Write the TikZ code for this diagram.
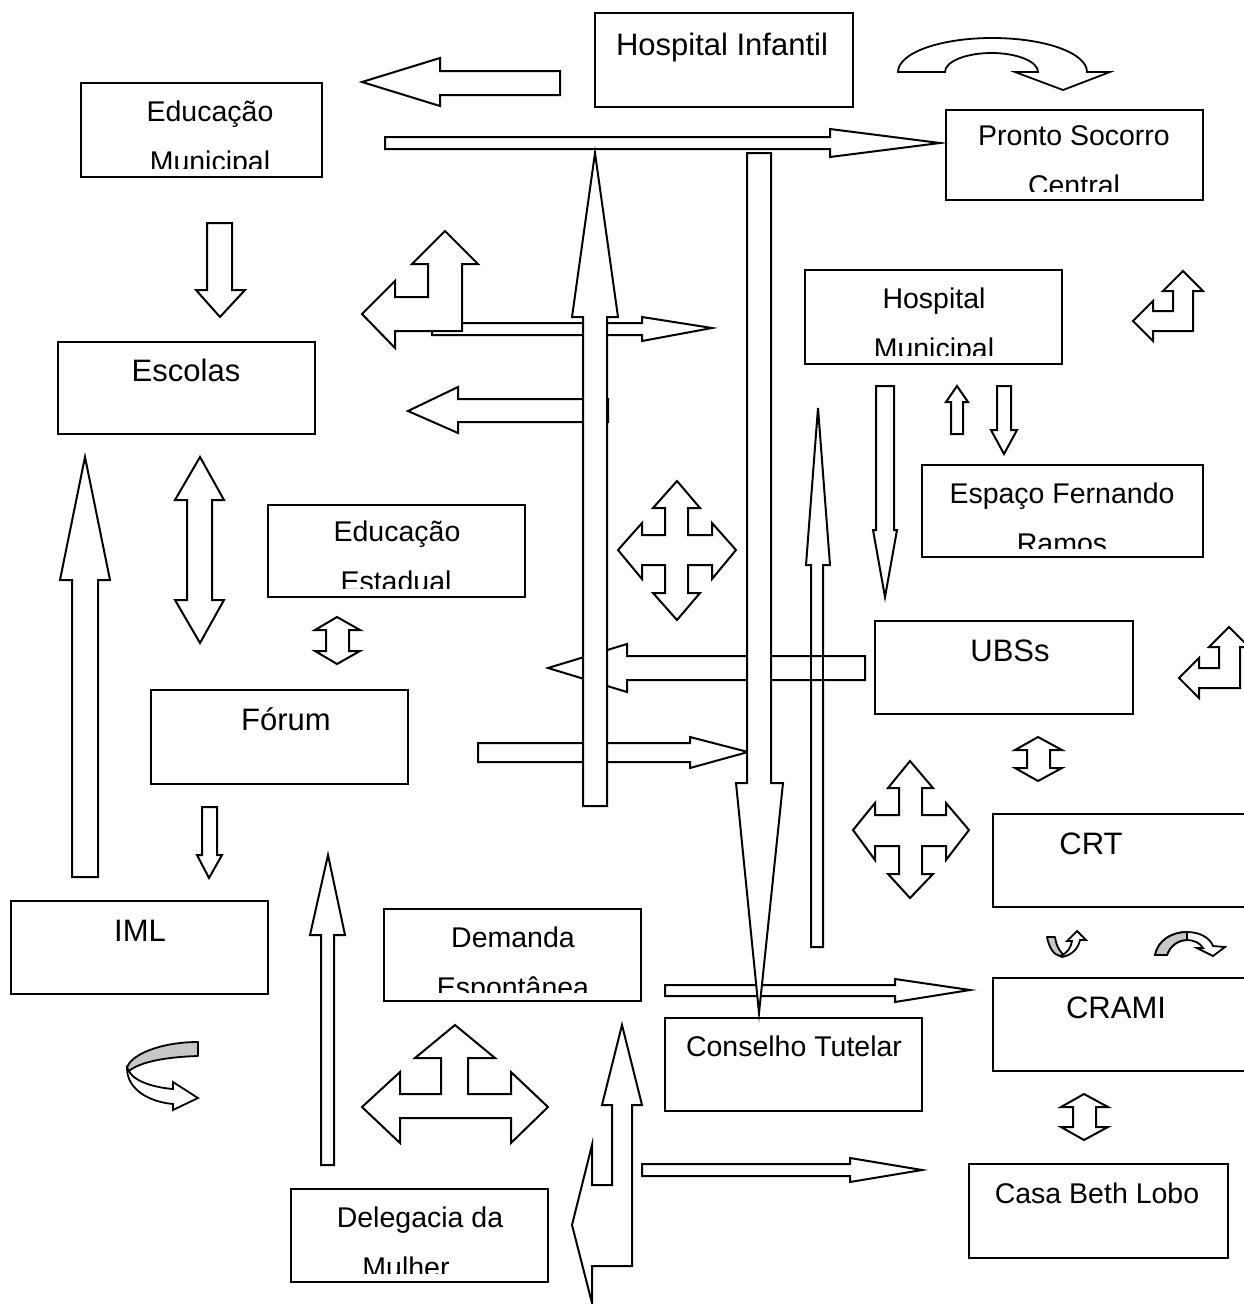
\documentclass[tikz,border=0pt]{standalone}
\usepackage{fontspec}
\setmainfont{Liberation Sans}
\newcommand\fa{\fontsize{28.5}{34}\selectfont}
\newcommand\fb{\fontsize{31}{37}\selectfont}
\tikzset{
 box/.style={draw, line width=2pt, fill=white, inner sep=0pt, outer sep=0pt},
 blk/.style={draw, line width=2pt, fill=white, line join=miter},
 blkline/.style={draw, line width=2pt, line join=miter},
 curlgray/.style={draw, line width=1.8pt, fill=black!22, line join=round},
 curlwhite/.style={draw, line width=1.8pt, fill=white, line join=miter},
 txa/.style={anchor=base, font=\fa, inner sep=0pt},
 txb/.style={anchor=base, font=\fb, inner sep=0pt},
}
\newcommand\mybox[5]{\node[box, minimum width={#4-#2}, minimum height={#5-#3}] (#1) at ({(#2+#4)/2},{(#3+#5)/2}) {};}
\begin{document}
\begin{tikzpicture}[x=1pt,y=-1pt]
\useasboundingbox (0,0) rectangle (1244,1304);
\clip (0,0) rectangle (1244,1304);
\fill[white] (0,0) rectangle (1244,1304);

% ---------- boxes ----------
\mybox{hinf}{595}{13}{853}{107}
\node[txb] (hinft) at (722,55) {Hospital Infantil};

\mybox{edm}{81}{83}{322}{177}
\begin{scope}\clip ([yshift=9pt]edm.south west) rectangle (edm.north east);
\node[txa] (edm1) at (210,121) {Educação};
\node[txa] (edm2) at (210,171) {Municipal};
\end{scope}

\mybox{psc}{946}{110}{1203}{200}
\begin{scope}\clip ([yshift=9pt]psc.south west) rectangle (psc.north east);
\node[txa] (psc1) at (1074,145) {Pronto Socorro};
\node[txa] (psc2) at (1074,195) {Central};
\end{scope}

\mybox{esc}{58}{342}{315}{434}
\node[txb] (esct) at (186,381) {Escolas};

\mybox{hmu}{805}{270}{1062}{364}
\begin{scope}\clip ([yshift=9pt]hmu.south west) rectangle (hmu.north east);
\node[txa] (hmu1) at (934,308) {Hospital};
\node[txa] (hmu2) at (934,358) {Municipal};
\end{scope}

\mybox{efr}{922}{465}{1203}{557}
\begin{scope}\clip ([yshift=9pt]efr.south west) rectangle (efr.north east);
\node[txa] (efr1) at (1062,503) {Espaço Fernando};
\node[txa] (efr2) at (1062,553) {Ramos};
\end{scope}

\mybox{ees}{268}{505}{525}{597}
\begin{scope}\clip ([yshift=9pt]ees.south west) rectangle (ees.north east);
\node[txa] (ees1) at (397,541) {Educação};
\node[txa] (ees2) at (396,591) {Estadual};
\end{scope}

\mybox{ubs}{875}{621}{1133}{714}
\node[txb] (ubst) at (1010,661) {UBSs};

\mybox{for}{151}{690}{408}{784}
\node[txb] (fort) at (286,730) {Fórum};

\mybox{crt}{993}{814}{1251}{907}
\node[txb] (crtt) at (1091,854) {CRT};

\mybox{iml}{11}{901}{268}{994}
\node[txb] (imlt) at (140,941) {IML};

\mybox{dem}{384}{909}{641}{1001}
\begin{scope}\clip ([yshift=9pt]dem.south west) rectangle (dem.north east);
\node[txa] (dem1) at (513,947) {Demanda};
\node[txa] (dem2) at (513,997) {Espontânea};
\end{scope}

\mybox{cra}{993}{978}{1251}{1071}
\node[txb] (crat) at (1116,1018) {CRAMI};

\mybox{con}{665}{1018}{922}{1111}
\node[txa] (cont) at (794,1056) {Conselho Tutelar};

\mybox{cbl}{969}{1164}{1228}{1258}
\node[txa] (cblt) at (1097,1203) {Casa Beth Lobo};

\mybox{del}{291}{1189}{548}{1282}
\begin{scope}\clip ([yshift=9pt]del.south west) rectangle (del.north east);
\node[txa] (del1) at (420,1227) {Delegacia da};
\node[txa] (del2) at (406,1277) {Mulher};
\end{scope}

% ---------- block arrows ----------
% A: top left-pointing
\path[blk] (362,82) -- (440,58) -- (440,71) -- (560,71) -- (560,95) -- (440,95) -- (440,106) -- cycle;
% B: thin right arrow to Pronto Socorro
\path[blk] (385,137) -- (830,137) -- (830,129) -- (940,143) -- (830,157) -- (830,149) -- (385,149) -- cycle;
% G: right arrow y~329
\path[blk] (432,323) -- (642,323) -- (642,317) -- (712,328) -- (642,341) -- (642,335) -- (432,335) -- cycle;
% H: left arrow y~411
\path[blk] (408,411) -- (458,387) -- (458,399) -- (608,399) -- (608,422) -- (458,422) -- (458,433) -- cycle;
% O: right arrow y~752
\path[blk] (478,743) -- (690,743) -- (690,737) -- (748,752) -- (690,768) -- (690,762) -- (478,762) -- cycle;
% Z: right arrow to CRAMI
\path[blk] (665,985) -- (895,985) -- (895,979) -- (970,990) -- (895,1002) -- (895,996) -- (665,996) -- cycle;
% AC: right arrow to Casa Beth Lobo
\path[blk] (642,1164) -- (850,1164) -- (850,1158) -- (922,1170) -- (850,1182) -- (850,1176) -- (642,1176) -- cycle;
% F: bent left-up arrow
\path[blk] (362,314) -- (395,281) -- (395,297) -- (428,297) -- (428,264) -- (412,264) -- (445,231) -- (478,264) -- (462,264) -- (462,331) -- (395,331) -- (395,348) -- cycle;
% I: long up arrow right of center
\path[blk] (818,408) -- (830,565) -- (823,565) -- (823,947) -- (811,947) -- (811,565) -- (806,565) -- cycle;
% N: left arrow from UBSs
\path[blk] (548,668) -- (627,644) -- (627,656) -- (865,656) -- (865,680) -- (627,680) -- (627,692) -- cycle;
\path[blkline] (823,656) -- (823,680) (811,656) -- (811,680);
% C: big up arrow
\path[blk] (595,153) -- (618,317) -- (607,317) -- (607,806) -- (583,806) -- (583,317) -- (572,317) -- cycle;
% D: big down arrow
\path[blk] (747,153) -- (771,153) -- (771,783) -- (783,783) -- (759,1013) -- (736,783) -- (747,783) -- cycle;
% E: Educacao Municipal -> Escolas
\path[blk] (207,223) -- (232,223) -- (232,290) -- (245,290) -- (220,317) -- (196,290) -- (207,290) -- cycle;
% J: double vertical Escolas - Forum
\path[blk] (200,457) -- (224,500) -- (212,500) -- (212,600) -- (224,600) -- (200,643) -- (175,600) -- (187,600) -- (187,500) -- (175,500) -- cycle;
% K: up arrow left
\path[blk] (85,457) -- (110,580) -- (98,580) -- (98,877) -- (72,877) -- (72,580) -- (60,580) -- cycle;
% L: four-way arrow
\path[blk] (677,481) -- (700,508) -- (688,508) -- (688,535) -- (712,535) -- (712,523) -- (736,550) -- (712,579) -- (712,565) -- (688,565) -- (688,593) -- (700,593) -- (677,620) -- (653,593) -- (665,593) -- (665,565) -- (642,565) -- (642,579) -- (618,550) -- (642,523) -- (642,535) -- (665,535) -- (665,508) -- (653,508) -- cycle;
% M: small double vertical
\path[blk] (337,617) -- (360,630) -- (349,630) -- (349,651) -- (360,651) -- (337,664) -- (315,651) -- (326,651) -- (326,630) -- (315,630) -- cycle;
% P: Hospital Municipal -> UBSs
\path[blk] (876,386) -- (894,386) -- (894,530) -- (897,530) -- (885,597) -- (873,530) -- (876,530) -- cycle;
% Q: small up
\path[blk] (957,386) -- (968,402) -- (963,402) -- (963,434) -- (951,434) -- (951,402) -- (946,402) -- cycle;
% R: small down
\path[blk] (997,386) -- (1011,386) -- (1011,430) -- (1017,430) -- (1004,454) -- (991,430) -- (997,430) -- cycle;
% S: bent arrow right top
\path[blk] (1133,321) -- (1153,301) -- (1153,311) -- (1173,311) -- (1173,291) -- (1163,291) -- (1183,271) -- (1203,291) -- (1193,291) -- (1193,331) -- (1153,331) -- (1153,341) -- cycle;
% T: bent arrow right middle
\path[blk] (1179,678) -- (1199,658) -- (1199,668) -- (1219,668) -- (1219,647) -- (1209,647) -- (1229,627) -- (1249,647) -- (1240,647) -- (1240,688) -- (1199,688) -- (1199,698) -- cycle;
% U: small double vertical UBSs - CRT
\path[blk] (1038,737) -- (1062,750) -- (1050,750) -- (1050,768) -- (1062,768) -- (1038,781) -- (1015,768) -- (1027,768) -- (1027,750) -- (1015,750) -- cycle;
% V: four-way arrow
\path[blk] (910,761) -- (933,788) -- (922,788) -- (922,815) -- (946,815) -- (946,803) -- (969,830) -- (946,860) -- (946,846) -- (922,846) -- (922,874) -- (933,874) -- (910,898) -- (888,874) -- (899,874) -- (899,846) -- (875,846) -- (875,860) -- (853,830) -- (875,803) -- (875,815) -- (899,815) -- (899,788) -- (888,788) -- cycle;
% W: small down under Forum
\path[blk] (202,807) -- (217,807) -- (217,855) -- (222,855) -- (209,878) -- (197,855) -- (202,855) -- cycle;
% X: up arrow from Delegacia
\path[blk] (328,855) -- (345,935) -- (334,935) -- (334,1165) -- (321,1165) -- (321,935) -- (310,935) -- cycle;
% AA: three-way arrow
\path[blk] (455,1025) -- (495,1058) -- (468,1058) -- (468,1094) -- (511,1094) -- (511,1072) -- (548,1107) -- (511,1143) -- (511,1118) -- (400,1118) -- (400,1143) -- (362,1107) -- (400,1072) -- (400,1094) -- (441,1094) -- (441,1058) -- (415,1058) -- cycle;
% AB: bent up/left arrow
\path[blk] (622,1025) -- (642,1105) -- (632,1105) -- (632,1266) -- (592,1266) -- (592,1303) -- (572,1225) -- (592,1145) -- (592,1185) -- (612,1185) -- (612,1105) -- (602,1105) -- cycle;
% AD: small double vertical CRAMI - Casa Beth Lobo
\path[blk] (1084,1094) -- (1108,1107) -- (1096,1107) -- (1096,1127) -- (1108,1127) -- (1084,1140) -- (1061,1127) -- (1073,1127) -- (1073,1107) -- (1061,1107) -- cycle;

% ---------- curved arrows ----------
% AF: top right curved arrow
\path[curlwhite] (898,72) .. controls (898,53) and (940,38) .. (992,38) .. controls (1045,38) and (1087,53) .. (1087,72) -- (1110,72) -- (1063,90) -- (1015,72) -- (1038,72) .. controls (1038,61.5) and (1017,53) .. (991.5,53) .. controls (966,53) and (945,61.5) .. (945,72) -- cycle;
% AE: bottom left curl
\path[curlgray] (198,1042) .. controls (160,1042) and (130,1055) .. (127,1068) -- (129,1071) .. controls (140,1062) and (165,1057) .. (198,1056) -- cycle;
\path[curlwhite] (127,1068) .. controls (127,1090) and (150,1102) .. (173,1104) -- (173,1110) -- (198,1098) -- (173,1082) -- (173,1089) .. controls (150,1087) and (133,1080) .. (129,1071) -- cycle;
% small U-turn arrow near CRT/CRAMI
\path[curlgray] (1047,937) .. controls (1049,948) and (1054,955) .. (1060,956) -- (1064,955) .. controls (1058,950) and (1056,944) .. (1055,937) -- cycle;
\path[curlwhite] (1060,956) .. controls (1068,953) and (1071,947) .. (1072,941) -- (1067,941) -- (1077,931) -- (1086,940) -- (1080,940) .. controls (1078,949) and (1072,955) .. (1062,957) -- cycle;
% arc arrow near CRT/CRAMI
\path[curlwhite] (1155,955) .. controls (1158,940) and (1172,932) .. (1187,932) .. controls (1200,932) and (1210,938) .. (1213,946) -- (1225,947) -- (1213,956) -- (1197,948) -- (1203,948) .. controls (1200,943) and (1194,940) .. (1187,940) .. controls (1178,940) and (1170,946) .. (1167,955) -- cycle;
\path[curlgray] (1155,955) .. controls (1158,940) and (1172,932) .. (1187,932) -- (1187,940) .. controls (1178,940) and (1170,946) .. (1167,955) -- cycle;
\end{tikzpicture}
\end{document}
